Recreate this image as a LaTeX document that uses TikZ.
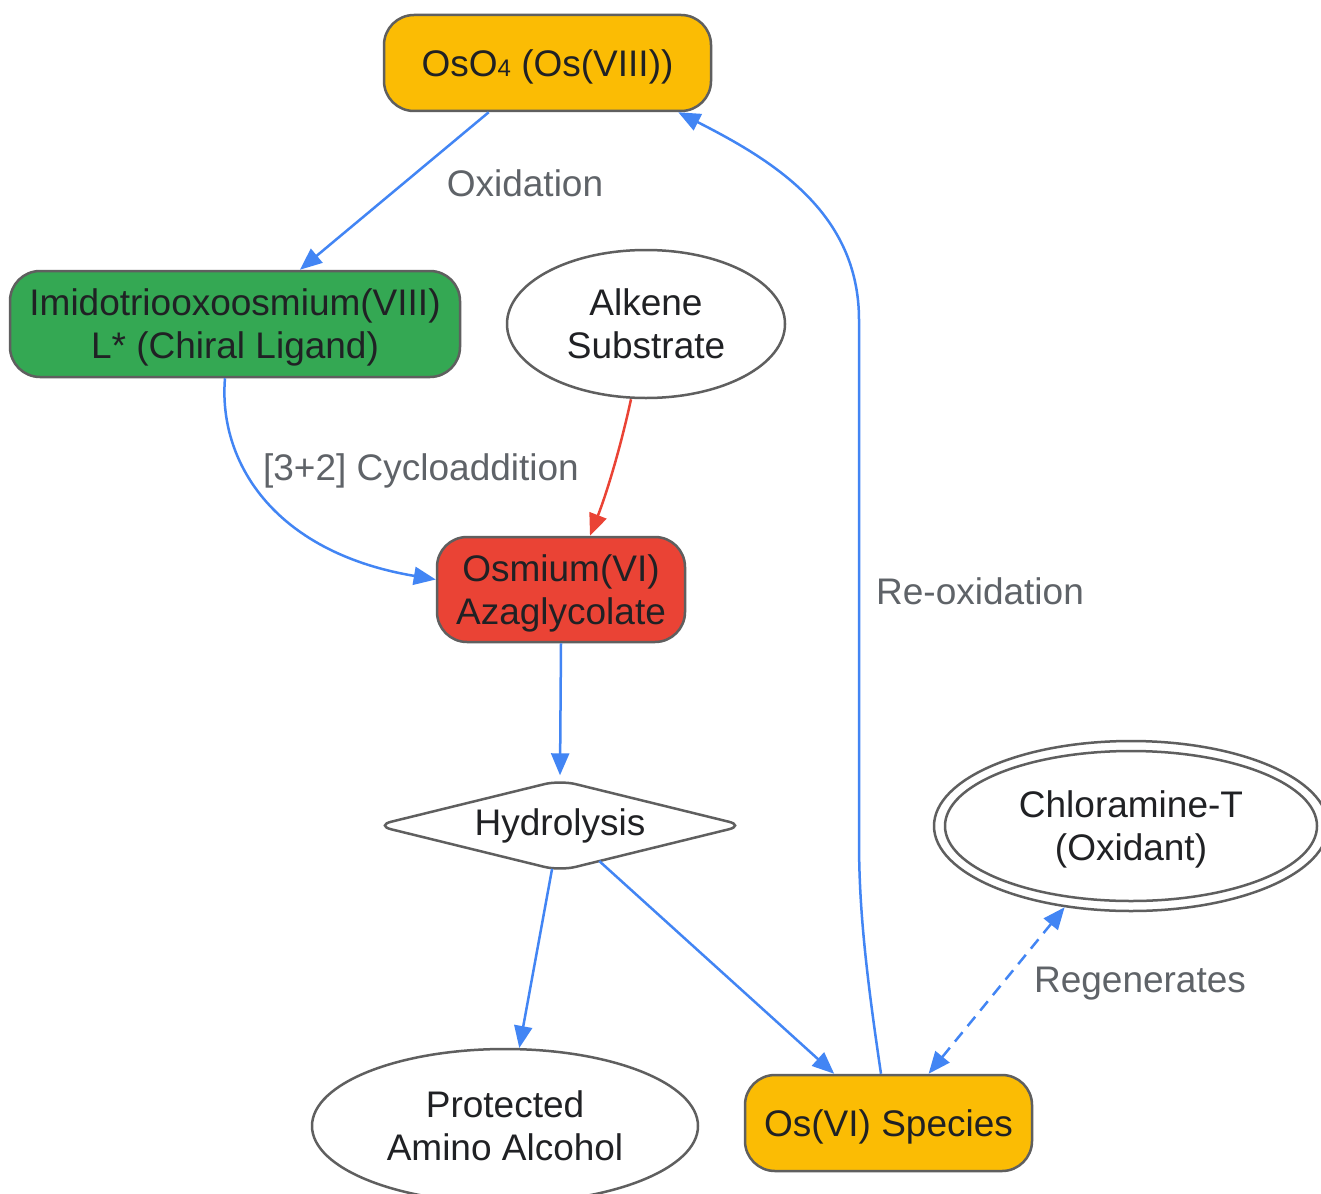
\documentclass[tikz,border=0pt]{standalone}
\usepackage{fontspec}
\setmainfont{Liberation Sans}
\usetikzlibrary{arrows.meta,shapes.geometric,calc}
\definecolor{cyel}{HTML}{FBBC04}
\definecolor{cgreen}{HTML}{34A853}
\definecolor{cred}{HTML}{EA4335}
\definecolor{cblue}{HTML}{4285F4}
\definecolor{cborder}{HTML}{5F5F5F}
\definecolor{clabel}{HTML}{5F6368}
\definecolor{ctext}{HTML}{202124}
\begin{document}
\begin{tikzpicture}[x=1pt,y=-1pt,
  every node/.style={font=\fontsize{37}{43}\selectfont, text=ctext},
  box/.style={draw=cborder, line width=2.5pt, rounded corners=30pt, align=center, inner sep=0pt, text depth=-5pt},
  ell/.style={ellipse, draw=cborder, line width=2.5pt, align=center, inner sep=0pt, fill=white},
  lab/.style={text=clabel, inner sep=0pt},
  tip/.style={-{Triangle[length=22pt,width=18pt]}},
  conn/.style={draw=cblue, line width=2.5pt, tip},
]
\useasboundingbox (0,0) rectangle (1321,1193);
\fill[white] (0,0) rectangle (1321,1193);

% nodes
\node[box, fill=cyel, minimum width=327pt, minimum height=96pt] (oso4) at (547.5,63) {OsO{\fontsize{24}{24}\selectfont 4} (Os(VIII))};
\node[box, fill=cgreen, minimum width=450pt, minimum height=106pt] (imido) at (235,324) {Imidotriooxoosmium(VIII)\\L* (Chiral Ligand)};
\node[ell, minimum width=278pt, minimum height=148pt, text depth=-4pt] (alkene) at (646,324) {Alkene\\Substrate};
\node[box, fill=cred, minimum width=248pt, minimum height=105pt] (azag) at (561,589.5) {Osmium(VI)\\Azaglycolate};
\node[diamond, aspect=4, inner sep=0pt, minimum width=368pt, minimum height=90pt] (hyd) at (560,825.5) {Hydrolysis};
\draw[draw=cborder, line width=2.5pt, rounded corners=16pt]
  ($(hyd.north)!0.5!(hyd.east)$) -- (hyd.east) -- (hyd.south) -- (hyd.west) -- (hyd.north) -- cycle;
\node[ell, minimum width=394pt, minimum height=170pt] (chlor) at (1131,826) {};
\draw[draw=cborder, line width=2.5pt] (chlor.center) ellipse [x radius=186pt, y radius=75pt];
\node[align=center, text depth=-5pt] (chlortxt) at (chlor.center) {Chloramine-T\\(Oxidant)};
\node[ell, minimum width=386pt, minimum height=154pt] (prot) at (505,1126) {Protected\\Amino Alcohol};
\node[box, fill=cyel, minimum width=287pt, minimum height=96pt] (osvi) at (888.5,1123) {Os(VI) Species};

% connectors
\draw[conn] (oso4) -- (imido);
\node[lab] (l1) at (525,183) {Oxidation};

\draw[conn] ([xshift=-10pt]imido.south) .. controls (218,460) and (272,552) .. ([yshift=10pt]azag.west);
\node[lab] (l2) at (421,471) {[3+2] Cycloaddition};

\draw[conn, draw=cred] ([xshift=-15pt]alkene.south) .. controls (620,450) and (606,495) .. ([xshift=29pt]azag.north);

\draw[conn] (azag.south) -- ([yshift=5pt]hyd.north);

\draw[conn] (hyd) -- (prot);
\draw[conn] (hyd) -- (osvi);

\draw[conn] ([xshift=-7.5pt]osvi.north) .. controls (864,960) and (859,900) .. (859,840) -- (859,320)
  .. controls (859,212) and (772,160) .. ([xshift=-34pt]oso4.south east);
\node[lab] (l3) at (980,591) {Re-oxidation};

\draw[conn, dash pattern=on 12pt off 8pt, {Triangle[length=22pt,width=18pt]}-{Triangle[length=22pt,width=18pt]}] (chlor) -- (osvi);
\node[lab] (l4) at (1140,984) {Regenerates};
\end{tikzpicture}
\end{document}
